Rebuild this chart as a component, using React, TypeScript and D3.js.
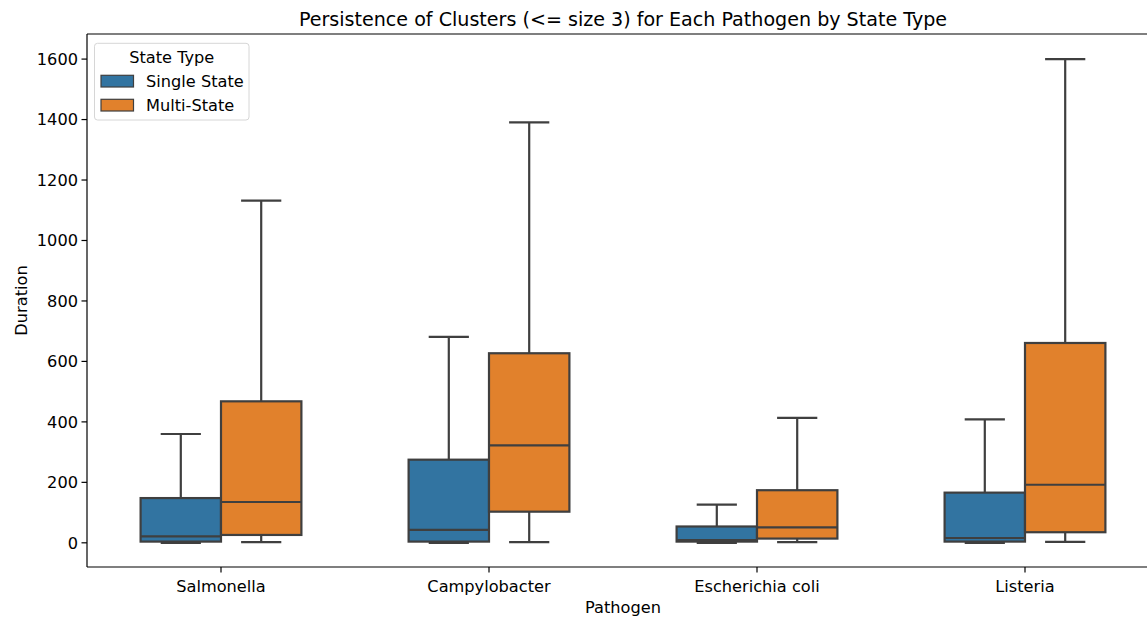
import React from "react";
import * as d3 from "d3";

const pathogens = ["Salmonella", "Campylobacter", "Escherichia coli", "Listeria"];
const stateTypes = ["Single State", "Multi-State"];
const colors = ["#3274a1", "#e1812c"];

// [whiskerLow, q1, median, q3, whiskerHigh] per pathogen
const singleState = [
  [0, 4, 21, 148, 360],
  [0, 4, 43, 275, 681],
  [0, 4, 9, 54, 126],
  [0, 4, 16, 166, 408],
];
const multiState = [
  [2, 26, 135, 468, 1132],
  [2, 103, 322, 627, 1391],
  [2, 14, 51, 174, 413],
  [3, 35, 192, 661, 1600],
];
const yTicks = [0, 200, 400, 600, 800, 1000, 1200, 1400, 1600];

const W = 1147;
const H = 617;
const M = { left: 87, top: 34, right: 1159, bottom: 567 };
const FONT = "DejaVu Sans, sans-serif";
const LINE = "#3f3f3f";
const FS = 16.2;
const TFS = 19.1;
const SW = 2.2;

export default function App() {
  const x = d3
    .scaleBand<string>()
    .domain(pathogens)
    .range([M.left, M.right])
    .paddingInner(0)
    .paddingOuter(0);
  const y = d3.scaleLinear().domain([-80, 1683]).range([M.bottom, M.top]);
  const series = [singleState, multiState];
  const groupW = x.bandwidth() * 0.6;
  const boxW = groupW / 2;
  const capW = boxW / 2;

  return (
    <svg
      width={W}
      height={H}
      style={{ position: "absolute", left: 0, top: 0, background: "#fff" }}
      fontFamily={FONT}
    >
      <rect x={0} y={0} width={W} height={H} fill="#fff" />
      {pathogens.map((p, i) => {
        const cx = (x(p) as number) + x.bandwidth() / 2;
        return series.map((s, si) => {
          const [lo, q1, med, q3, hi] = s[i];
          const bx = cx - groupW / 2 + si * boxW;
          const mid = bx + boxW / 2;
          return (
            <g key={p + si}>
              <line x1={mid} x2={mid} y1={y(q3)} y2={y(hi)} stroke={LINE} strokeWidth={SW} />
              <line x1={mid} x2={mid} y1={y(q1)} y2={y(lo)} stroke={LINE} strokeWidth={SW} />
              <line x1={mid - capW / 2} x2={mid + capW / 2} y1={y(hi)} y2={y(hi)} stroke={LINE} strokeWidth={SW} />
              <line x1={mid - capW / 2} x2={mid + capW / 2} y1={y(lo)} y2={y(lo)} stroke={LINE} strokeWidth={SW} />
              <rect
                x={bx}
                y={y(q3)}
                width={boxW}
                height={y(q1) - y(q3)}
                fill={colors[si]}
                stroke={LINE}
                strokeWidth={SW}
              />
              <line x1={bx} x2={bx + boxW} y1={y(med)} y2={y(med)} stroke={LINE} strokeWidth={SW} />
            </g>
          );
        });
      })}
      {/* spines */}
      <line x1={M.left} x2={M.left} y1={M.top} y2={M.bottom} stroke="#000" strokeWidth={1.2} />
      <line x1={M.left} x2={M.right} y1={M.bottom} y2={M.bottom} stroke="#000" strokeWidth={1.2} />
      <line x1={M.left} x2={M.right} y1={M.top} y2={M.top} stroke="#000" strokeWidth={1.2} />
      <line x1={M.right} x2={M.right} y1={M.top} y2={M.bottom} stroke="#000" strokeWidth={1.2} />
      {/* y ticks */}
      {yTicks.map((t) => (
        <g key={t}>
          <line x1={M.left - 5.5} x2={M.left} y1={y(t)} y2={y(t)} stroke="#000" strokeWidth={1.2} />
          <text x={78} y={y(t)} dy="0.36em" textAnchor="end" fontSize={FS} fill="#000">
            {t}
          </text>
        </g>
      ))}
      {/* x ticks */}
      {pathogens.map((p) => {
        const cx = (x(p) as number) + x.bandwidth() / 2;
        return (
          <g key={p}>
            <line x1={cx} x2={cx} y1={M.bottom} y2={M.bottom + 5.5} stroke="#000" strokeWidth={1.2} />
            <text x={cx} y={592} textAnchor="middle" fontSize={FS} fill="#000">
              {p}
            </text>
          </g>
        );
      })}
      <text x={(M.left + M.right) / 2} y={613} textAnchor="middle" fontSize={FS} fill="#000">
        Pathogen
      </text>
      <text
        transform={`translate(27,${(M.top + M.bottom) / 2}) rotate(-90)`}
        textAnchor="middle"
        fontSize={FS}
        fill="#000"
      >
        Duration
      </text>
      <text x={(M.left + M.right) / 2} y={26} textAnchor="middle" fontSize={TFS} fill="#000">
        Persistence of Clusters (&lt;= size 3) for Each Pathogen by State Type
      </text>
      {/* legend */}
      <g>
        <rect x={94.5} y={43.3} width={154.5} height={76.7} rx={3} fill="#fff" fillOpacity={0.8} stroke="#d6d6d6" strokeWidth={1} />
        <text x={171.75} y={63} textAnchor="middle" fontSize={FS} fill="#000">
          State Type
        </text>
        {stateTypes.map((s, i) => (
          <g key={s}>
            <rect x={101} y={75.3 + i * 24} width={32.5} height={11.7} fill={colors[i]} stroke={LINE} strokeWidth={1.2} />
            <text x={146} y={86.8 + i * 24} fontSize={FS} fill="#000">
              {s}
            </text>
          </g>
        ))}
      </g>
    </svg>
  );
}
